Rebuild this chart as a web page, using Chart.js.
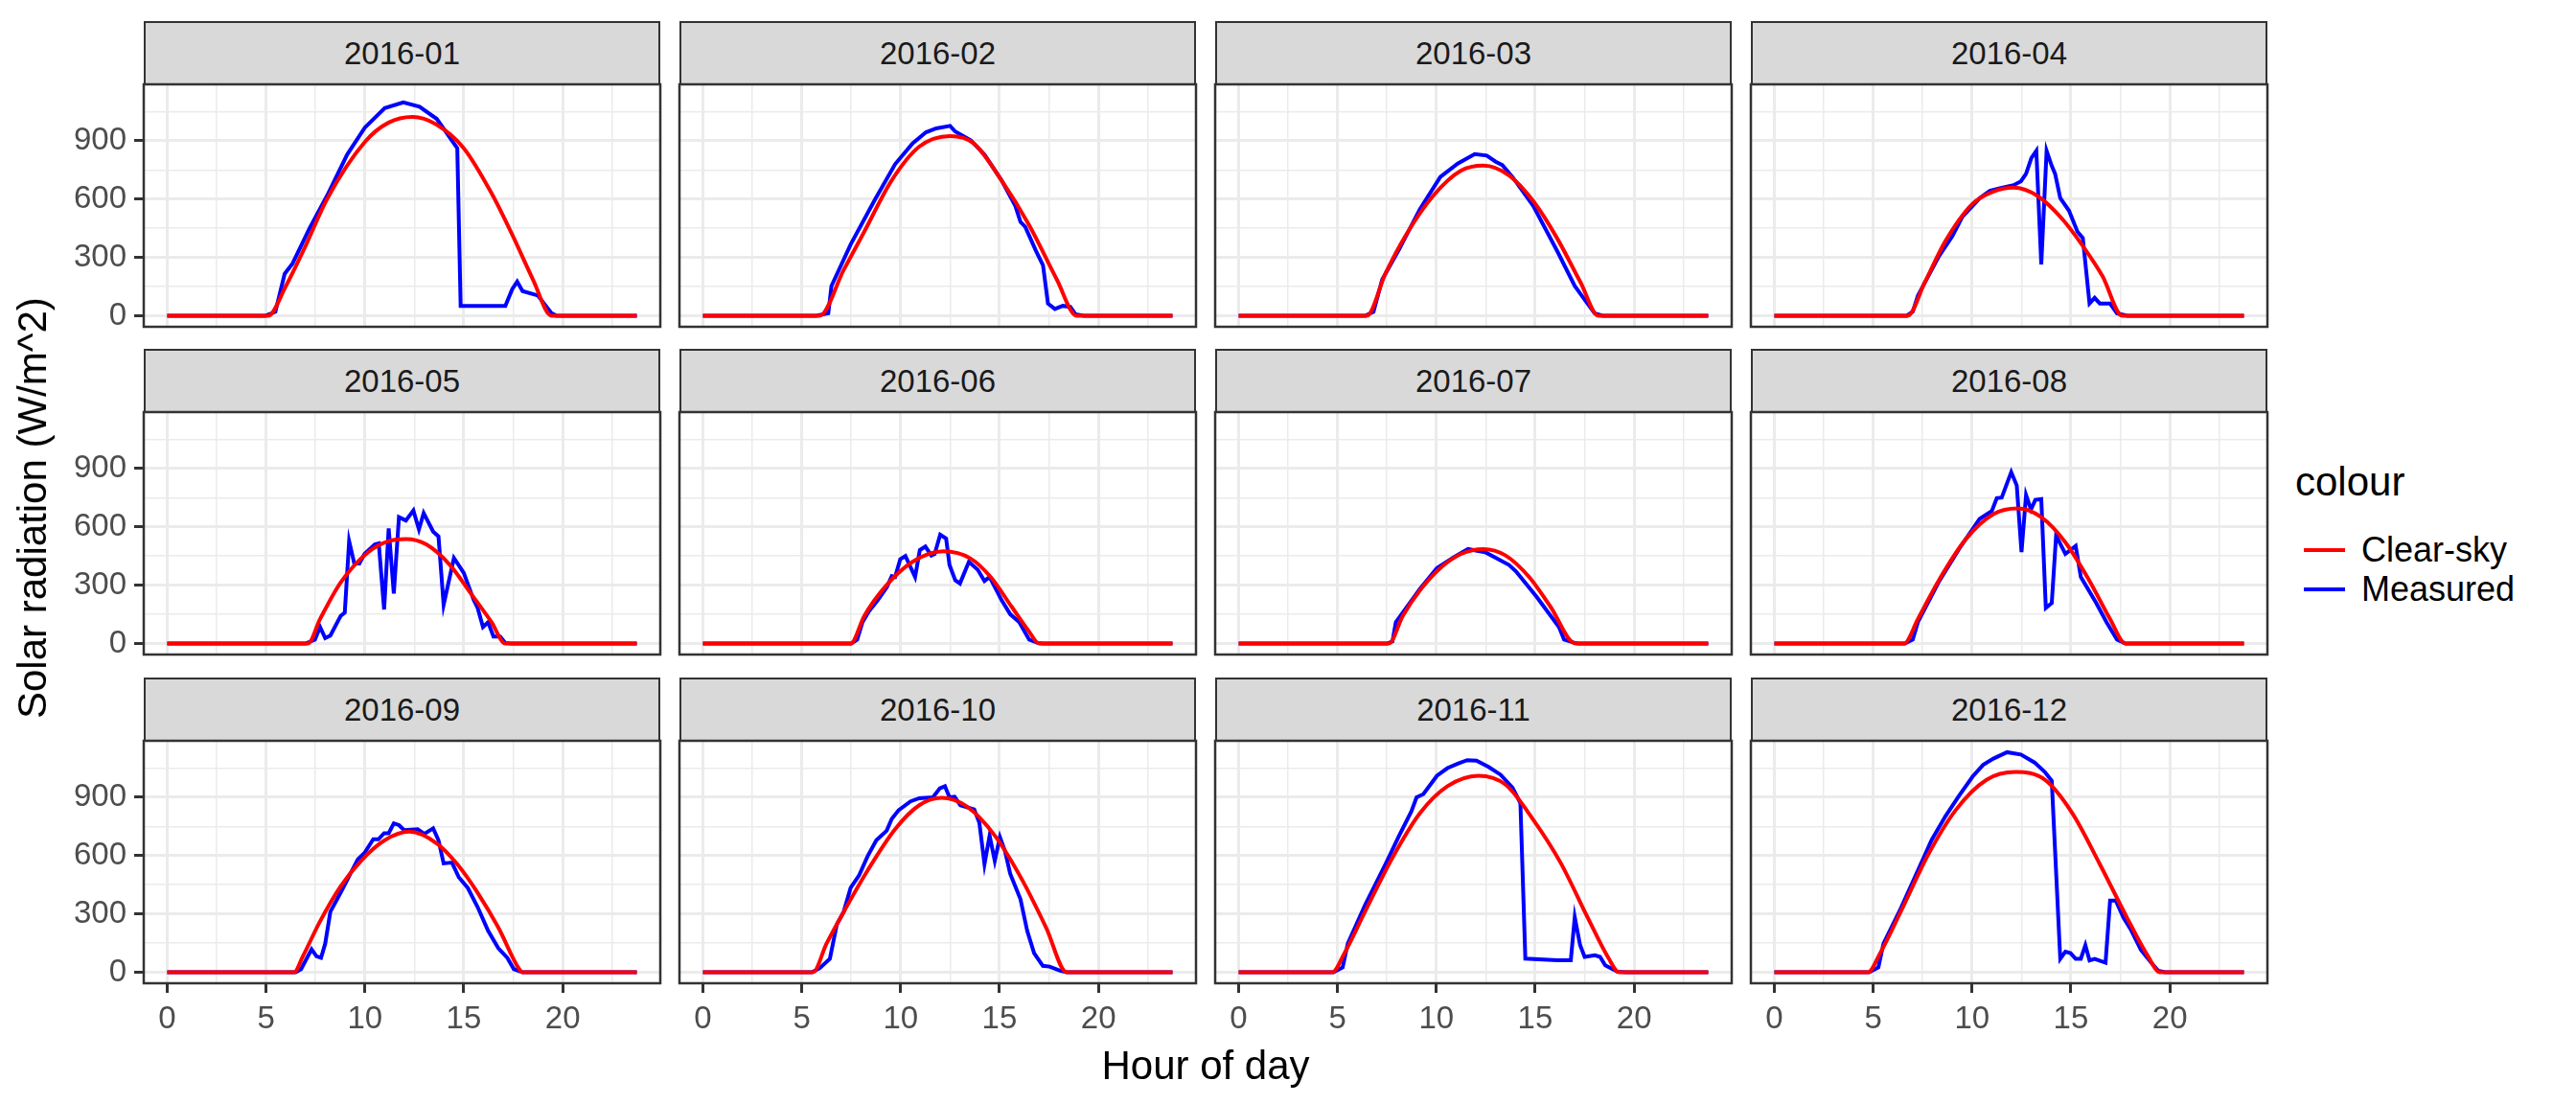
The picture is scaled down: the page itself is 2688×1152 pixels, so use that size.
<!DOCTYPE html>
<html>
<head>
<meta charset="utf-8">
<script src="https://cdn.jsdelivr.net/npm/chart.js@4.4.1/dist/chart.umd.min.js"></script>
<style>
  body { margin: 0; background: #fff; width: 2688px; height: 1152px; position: relative; overflow: hidden;
         font-family: "Liberation Sans", Arial, sans-serif; }
  canvas { position: absolute; }
  .strip { position: absolute; box-sizing: border-box; background: #d9d9d9; border: 2px solid #333;
           color: #1a1a1a; font-size: 33px; display: flex; align-items: center; justify-content: center; }
  .title { position: absolute; color: #000; font-size: 42px; white-space: nowrap; transform: translate(-50%, -50%); }
  .key { position: absolute; height: 4px; width: 43px; }
  .ltext { position: absolute; font-size: 36px; color: #000; transform: translateY(-50%); white-space: nowrap; }
</style>
</head>
<body>
<script>
const months = ["2016-01", "2016-02", "2016-03", "2016-04", "2016-05", "2016-06",
                "2016-07", "2016-08", "2016-09", "2016-10", "2016-11", "2016-12"];
const xTicks = [0, 5, 10, 15, 20];
const xMinor = [2.5, 7.5, 12.5, 17.5, 22.5];
const yTicks = [0, 300, 600, 900];
const yMinor = [150, 450, 750, 1050];

// [hour, W/m^2]
const clear01 = [[0,0],[5.1,0],[6,153],[7.03,367],[8.07,598],[10,895],[11.2,994],[12.4,1023],[13.6,985],[15,862],[16.4,631],[17.45,417],[18.5,186],[19.44,0],[23.75,0]];
const meas01 = [[0,0],[4.95,0],[5.47,21],[5.94,216],[6.34,269],[7.2,450],[8.07,615],[9.1,829],[10,969],[11,1068],[11.94,1098],[12.76,1076],[13.63,1013],[14.67,862],[14.84,51],[17.1,51],[17.45,137],[17.7,176],[17.97,127],[18.75,104],[19.44,13],[19.7,0],[23.75,0]];
const clear02 = [[0,0],[5.9,0],[7.12,236],[8.16,433],[9.55,697],[10.94,870],[12.5,925],[13.7,887],[15.1,697],[16.5,466],[17.9,186],[18.9,0],[23.75,0]];
const meas02 = [[0,0],[5.73,0],[6.34,13],[6.5,153],[7.47,367],[8.7,598],[9.72,780],[10.6,887],[11.28,944],[11.8,964],[12.5,977],[12.76,948],[13.54,903],[14.24,829],[15.1,697],[15.8,565],[16.06,483],[16.3,458],[16.84,335],[17.2,260],[17.45,63],[17.8,35],[18.2,51],[18.58,46],[18.84,8],[19.27,0],[23.75,0]];
const clear03 = [[0,0],[6.48,0],[7.43,219],[8.47,417],[9.86,620],[11.25,747],[12.38,773],[13.68,722],[14.9,590],[16.1,400],[17.3,170],[18.2,0],[23.75,0]];
const meas03 = [[0,0],[6.4,0],[6.82,21],[7.26,186],[8.12,343],[9.17,549],[10.2,714],[11.08,783],[11.94,832],[12.55,824],[13,793],[13.33,776],[13.85,714],[14.9,565],[16.1,335],[17,153],[18,13],[18.4,0],[23.75,0]];
const clear04 = [[0,0],[6.74,0],[7.6,170],[8.65,384],[10,574],[11.08,639],[12.1,659],[13.33,615],[14.55,499],[15.6,359],[16.6,203],[17.6,0],[23.75,0]];
const meas04 = [[0,0],[6.7,0],[7,21],[7.26,104],[8.3,302],[9,409],[9.5,508],[10.4,606],[10.9,643],[11.4,656],[12.1,672],[12.47,692],[12.73,730],[13,812],[13.25,849],[13.5,264],[13.77,849],[14.03,771],[14.2,730],[14.46,606],[14.9,541],[15.33,433],[15.6,400],[15.94,63],[16.2,92],[16.46,63],[16.98,63],[17.33,13],[17.85,0],[23.75,0]];
const clear05 = [[0,0],[7.12,0],[7.73,126],[8.77,314],[10.16,470],[11.2,527],[12.07,538],[13.1,510],[14.3,404],[15.36,257],[16.4,110],[17.1,0],[23.75,0]];
const meas05 = [[0,0],[7,0],[7.47,20],[7.73,85],[7.99,28],[8.25,41],[8.77,142],[8.98,159],[9.2,527],[9.46,412],[9.72,412],[9.98,461],[10.5,510],[10.7,515],[10.97,175],[11.2,592],[11.46,257],[11.72,650],[12.07,633],[12.45,685],[12.73,587],[12.97,671],[13.45,576],[13.72,551],[13.98,200],[14.5,440],[15,363],[15.5,224],[15.7,183],[15.97,85],[16.23,110],[16.5,36],[16.84,36],[17.1,3],[17.4,0],[23.75,0]];
const clear06 = [[0,0],[7.47,0],[8.16,142],[9.2,290],[10.6,420],[12.15,474],[13.54,437],[14.58,339],[15.6,191],[16.5,61],[17,0],[23.75,0]];
const meas06 = [[0,0],[7.5,0],[7.8,20],[8.07,110],[8.4,167],[8.85,224],[9.3,290],[9.55,347],[9.72,342],[9.98,434],[10.24,450],[10.73,342],[10.97,481],[11.25,499],[11.55,453],[11.72,461],[12,560],[12.3,540],[12.47,404],[12.76,326],[13,309],[13.45,420],[13.9,380],[14.24,322],[14.5,342],[15.1,224],[15.54,151],[16,110],[16.5,20],[16.93,3],[17.2,0],[23.75,0]];
const clear07 = [[0,0],[7.6,0],[8.3,142],[9.17,273],[10.2,388],[11.25,461],[12.38,486],[13.5,453],[14.72,339],[15.76,191],[17.05,0],[23.75,0]];
const meas07 = [[0,0],[7.5,0],[7.78,11],[7.95,110],[9.17,281],[10.03,388],[10.9,445],[11.6,486],[12.47,470],[13.68,404],[14.03,371],[15.07,240],[16.2,85],[16.46,20],[17,3],[17.2,0],[23.75,0]];
const clear08 = [[0,0],[6.56,0],[7.26,126],[8.3,322],[9.69,538],[11.08,666],[12.3,695],[13.5,650],[14.72,520],[15.94,322],[16.98,126],[17.76,0],[23.75,0]];
const meas08 = [[0,0],[6.6,0],[7,20],[7.26,110],[8.3,314],[9.34,486],[10.38,641],[11,682],[11.25,748],[11.5,751],[11.98,882],[12.26,813],[12.5,470],[12.73,764],[12.98,690],[13.2,739],[13.5,743],[13.73,183],[14.03,208],[14.25,555],[14.72,461],[15.24,502],[15.5,342],[16.28,208],[16.8,110],[17.33,20],[17.76,0],[23.75,0]];
const clear09 = [[0,0],[6.42,0],[6.86,82],[7.73,262],[8.77,442],[9.8,573],[11,679],[12.24,723],[13.63,663],[14.67,556],[15.7,409],[16.75,229],[17.8,16],[17.97,0],[23.75,0]];
const meas09 = [[0,0],[6.5,0],[6.77,16],[7.3,118],[7.55,82],[7.78,74],[7.99,147],[8.25,311],[8.77,409],[9.64,581],[9.98,614],[10.42,684],[10.68,684],[10.97,715],[11.2,715],[11.46,766],[11.72,757],[11.98,731],[12.67,736],[13,712],[13.45,740],[13.72,679],[13.98,560],[14.4,564],[14.75,488],[15.2,434],[15.7,335],[16.23,213],[16.75,123],[17.2,74],[17.53,16],[17.97,0],[23.75,0]];
const clear10 = [[0,0],[5.56,0],[6.25,147],[7.12,311],[8.33,524],[9.72,736],[10.94,859],[12.07,897],[13.37,851],[14.76,703],[16.15,474],[17.36,229],[18.4,0],[23.75,0]];
const meas10 = [[0,0],[5.5,0],[5.9,20],[6.42,69],[6.77,245],[7.12,311],[7.47,434],[7.9,499],[8.33,597],[8.77,679],[9.29,728],[9.55,789],[9.9,834],[10.5,879],[10.94,895],[11.63,900],[11.98,946],[12.24,957],[12.47,900],[12.73,903],[13.02,859],[13.72,838],[13.98,769],[14.24,556],[14.5,703],[14.76,573],[15.02,695],[15.28,622],[15.54,507],[16.06,376],[16.4,213],[16.75,98],[17.19,33],[17.53,29],[18.06,8],[18.4,0],[23.75,0]];
const clear11 = [[0,0],[4.74,0],[5.35,98],[6.39,311],[7.78,589],[9.17,818],[10.56,957],[12.12,1011],[13.5,965],[14.9,785],[16.28,564],[17.67,278],[18.7,74],[19.24,0],[23.75,0]];
const meas11 = [[0,0],[4.8,0],[5.26,25],[5.52,147],[6.39,344],[7.43,556],[8.12,703],[8.73,826],[9,900],[9.34,916],[10.03,1011],[10.56,1050],[11.08,1073],[11.56,1091],[12.03,1088],[12.64,1056],[13.25,1016],[13.85,950],[14.25,870],[14.5,70],[16.11,62],[16.8,62],[17,283],[17.27,139],[17.5,79],[18.02,87],[18.28,79],[18.54,36],[19.15,3],[19.58,0],[23.75,0]];
const clear12 = [[0,0],[4.74,0],[5.35,98],[6.39,311],[7.78,605],[9.17,834],[10.73,990],[12.2,1030],[13.68,990],[15.07,818],[16.46,556],[17.85,278],[18.9,82],[19.5,0],[23.75,0]];
const meas12 = [[0,0],[4.8,0],[5.26,25],[5.52,147],[6.39,327],[7.08,483],[7.95,679],[8.65,802],[9.34,908],[10.03,1007],[10.56,1067],[11.08,1099],[11.77,1132],[12.47,1120],[13.16,1079],[13.68,1030],[14.03,985],[14.2,622],[14.46,69],[14.72,106],[14.98,98],[15.24,69],[15.5,69],[15.73,139],[15.94,61],[16.2,69],[16.75,49],[16.98,368],[17.27,368],[17.67,278],[18.02,221],[18.54,115],[19.06,49],[19.41,8],[19.76,0],[23.75,0]];

const clearSky = [clear01, clear02, clear03, clear04, clear05, clear06, clear07, clear08, clear09, clear10, clear11, clear12];
const measured = [meas01, meas02, meas03, meas04, meas05, meas06, meas07, meas08, meas09, meas10, meas11, meas12];

// facet geometry (px)
const colLeft = [150, 709, 1268, 1827];
const rowTop = [88, 430, 773];
const plotW = 539, plotH = 253, stripH = 66;
const font = "'Liberation Sans', Arial, sans-serif";

const panelBorder = {
  id: "panelBorder",
  afterDraw(chart) {
    const { ctx, chartArea: a } = chart;
    ctx.save();
    ctx.strokeStyle = "#333333";
    ctx.lineWidth = 2.5;
    ctx.strokeRect(a.left, a.top, a.right - a.left, a.bottom - a.top);
    ctx.restore();
  },
};

const toXY = (arr) => arr.map(([x, y]) => ({ x, y }));

// keep every panel the same size, whatever labels it shows
const noPad = (s) => { s.paddingTop = 0; s.paddingBottom = 0; s.paddingLeft = 0; s.paddingRight = 0; };

function makePanel(i) {
  const col = i % 4, row = Math.floor(i / 4);
  const pad = 4;
  const padL = col === 0 ? 150 : pad;
  const padB = row === 2 ? 80 : pad;

  const strip = document.createElement("div");
  strip.className = "strip";
  strip.style.left = colLeft[col] + "px";
  strip.style.top = (rowTop[row] - stripH) + "px";
  strip.style.width = plotW + "px";
  strip.style.height = (stripH + 1) + "px";
  strip.textContent = months[i];
  document.body.appendChild(strip);

  const canvas = document.createElement("canvas");
  canvas.width = padL + plotW + pad;
  canvas.height = pad + plotH + padB;
  canvas.style.left = (colLeft[col] - padL) + "px";
  canvas.style.top = (rowTop[row] - pad) + "px";
  document.body.appendChild(canvas);

  new Chart(canvas.getContext("2d"), {
    type: "line",
    data: {
      datasets: [
        { label: "Clear-sky", data: toXY(clearSky[i]), borderColor: "#ff0000", borderWidth: 4,
          pointRadius: 0, cubicInterpolationMode: "monotone", tension: 0.4 },
        { label: "Measured", data: toXY(measured[i]), borderColor: "#0000ff", borderWidth: 4,
          pointRadius: 0, tension: 0 },
      ],
    },
    options: {
      responsive: false,
      animation: false,
      devicePixelRatio: 1,
      layout: { padding: { left: col === 0 ? 0 : padL, right: pad, top: pad, bottom: row === 2 ? 0 : padB } },
      plugins: { legend: { display: false }, tooltip: { enabled: false } },
      scales: {
        x: {
          type: "linear", min: -1.1875, max: 24.9375,
          afterBuildTicks: (s) => { s.ticks = [...xTicks, ...xMinor].sort((a, b) => a - b).map((v) => ({ value: v })); },
          afterFit: (s) => { s.height = row === 2 ? padB : 0; noPad(s); },
          border: { display: false },
          grid: {
            color: "#ebebeb",
            lineWidth: (c) => (xTicks.includes(c.tick.value) ? 3 : 1.5),
            drawTicks: row === 2, tickLength: 10, tickWidth: 3,
            tickColor: (c) => (xTicks.includes(c.tick.value) ? "#333333" : "rgba(0,0,0,0)"),
          },
          ticks: {
            display: row === 2, autoSkip: false, maxRotation: 0, padding: 8, color: "#4d4d4d",
            font: { family: font, size: 33 },
            callback: (v) => (xTicks.includes(v) ? String(v) : ""),
          },
        },
        y: {
          type: "linear", min: -56.7, max: 1190.7,
          afterBuildTicks: (s) => { s.ticks = [...yTicks, ...yMinor].sort((a, b) => a - b).map((v) => ({ value: v })); },
          afterFit: (s) => { s.width = col === 0 ? padL : 0; noPad(s); },
          border: { display: false },
          grid: {
            color: "#ebebeb",
            lineWidth: (c) => (yTicks.includes(c.tick.value) ? 3 : 1.5),
            drawTicks: col === 0, tickLength: 10, tickWidth: 3,
            tickColor: (c) => (yTicks.includes(c.tick.value) ? "#333333" : "rgba(0,0,0,0)"),
          },
          ticks: {
            display: col === 0, autoSkip: false, padding: 8, color: "#4d4d4d",
            font: { family: font, size: 33 },
            callback: (v) => (yTicks.includes(v) ? String(v) : ""),
          },
        },
      },
    },
    plugins: [panelBorder],
  });
}

months.forEach((m, i) => makePanel(i));

// axis titles
const yTitle = document.createElement("div");
yTitle.className = "title";
yTitle.style.left = "34px";
yTitle.style.top = "530px";
yTitle.style.transform = "translate(-50%, -50%) rotate(-90deg)";
yTitle.textContent = "Solar radiation (W/m^2)";
document.body.appendChild(yTitle);

const xTitle = document.createElement("div");
xTitle.className = "title";
xTitle.style.left = "1258px";
xTitle.style.top = "1112px";
xTitle.textContent = "Hour of day";
document.body.appendChild(xTitle);

// legend
const legTitle = document.createElement("div");
legTitle.className = "ltext";
legTitle.style.fontSize = "42px";
legTitle.style.left = "2395px";
legTitle.style.top = "503px";
legTitle.textContent = "colour";
document.body.appendChild(legTitle);

[["Clear-sky", "#ff0000", 574], ["Measured", "#0000ff", 615]].forEach(([label, color, y]) => {
  const k = document.createElement("div");
  k.className = "key";
  k.style.background = color;
  k.style.left = "2404px";
  k.style.top = (y - 2) + "px";
  document.body.appendChild(k);
  const t = document.createElement("div");
  t.className = "ltext";
  t.style.left = "2464px";
  t.style.top = y + "px";
  t.textContent = label;
  document.body.appendChild(t);
});
</script>
</body>
</html>
